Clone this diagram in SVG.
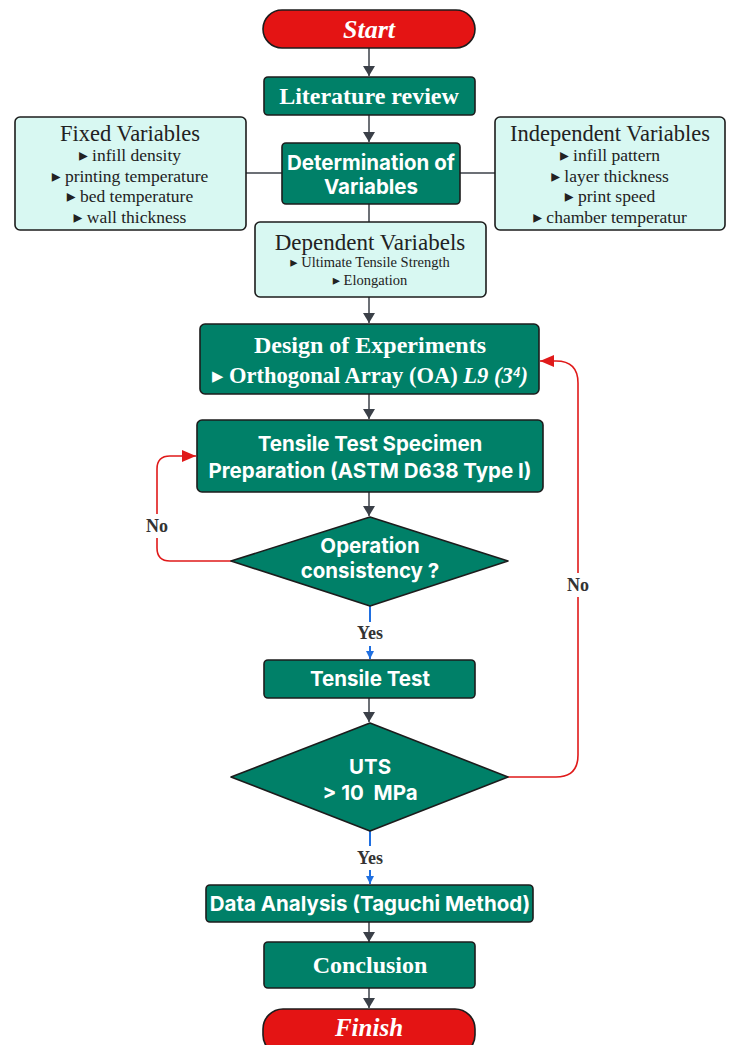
<svg xmlns="http://www.w3.org/2000/svg" width="731" height="1045" viewBox="0 0 731 1045">
<defs>
<style>
.g{fill:#008068;stroke:#1c1c1c;stroke-width:1.6}
.l{fill:#d8f8f2;stroke:#1c1c1c;stroke-width:1.6}
.r{fill:#e41414;stroke:#1c1c1c;stroke-width:1.6}
.sf{font-family:"Liberation Serif","DejaVu Serif",serif;text-anchor:middle}
.ss{font-family:Inter,"Liberation Sans",sans-serif;font-weight:700;text-anchor:middle;fill:#fff}
.wb{fill:#fff;font-weight:700}
.dk{fill:#222}
.c{fill:none;stroke:#3b4048;stroke-width:1.5}
.cr{fill:none;stroke:#e01a1a;stroke-width:1.6}
.cb{fill:none;stroke:#1f6fe0;stroke-width:2}
.lbl{font-family:"Liberation Serif","DejaVu Serif",serif;font-weight:700;font-size:18px;fill:#333;text-anchor:middle}
</style>
<marker id="ag" markerWidth="10" markerHeight="14" refX="10" refY="7" orient="auto" markerUnits="userSpaceOnUse"><path d="M0,1 L10,7 L0,13 Z" fill="#3b4048"/></marker>
<marker id="ar" markerWidth="14" markerHeight="12" refX="14" refY="6" orient="auto" markerUnits="userSpaceOnUse"><path d="M0,0 L14,6 L0,12 Z" fill="#e01a1a"/></marker>
<marker id="ab" markerWidth="8" markerHeight="10" refX="8" refY="5" orient="auto" markerUnits="userSpaceOnUse"><path d="M0,1 L8,5 L0,9 Z" fill="#1f6fe0"/></marker>
</defs>
<rect width="731" height="1045" fill="#fff"/>

<g id="connectors">
<line class="c" x1="369" y1="48" x2="369" y2="76" marker-end="url(#ag)"/>
<line class="c" x1="369" y1="115" x2="369" y2="142" marker-end="url(#ag)"/>
<line class="c" x1="246" y1="173" x2="282" y2="173"/>
<line class="c" x1="460" y1="173" x2="495" y2="173"/>
<line class="c" x1="369" y1="204" x2="369" y2="222"/>
<line class="c" x1="369" y1="297" x2="369" y2="323" marker-end="url(#ag)"/>
<line class="c" x1="369" y1="394" x2="369" y2="419" marker-end="url(#ag)"/>
<line class="c" x1="369" y1="492" x2="369" y2="516" marker-end="url(#ag)"/>
<line class="cb" x1="370" y1="606" x2="370" y2="622"/>
<line class="cb" x1="370" y1="646" x2="370" y2="659" marker-end="url(#ab)"/>
<line class="c" x1="369" y1="698" x2="369" y2="722" marker-end="url(#ag)"/>
<line class="cb" x1="370" y1="831" x2="370" y2="846"/>
<line class="cb" x1="370" y1="870" x2="370" y2="884" marker-end="url(#ab)"/>
<line class="c" x1="369" y1="922" x2="369" y2="942" marker-end="url(#ag)"/>
<line class="c" x1="369" y1="988" x2="369" y2="1008" marker-end="url(#ag)"/>
<path class="cr" d="M231,561 H170 Q157,561 157,548 V469 Q157,456 170,456 H196" marker-end="url(#ar)"/>
<path class="cr" d="M508,777 H556 Q578,777 578,755 V383 Q578,361 556,361 H540" marker-end="url(#ar)"/>
<rect x="142" y="514" width="30" height="24" fill="#fff"/>
<text class="lbl" x="157" y="532">No</text>
<rect x="563" y="573" width="30" height="24" fill="#fff"/>
<text class="lbl" x="578" y="591">No</text>
<text class="lbl" x="370" y="639">Yes</text>
<text class="lbl" x="370" y="864">Yes</text>
</g>

<g id="start">
<rect class="r" x="263" y="10" width="212" height="38" rx="19"/>
<text class="sf wb" x="369" y="38" font-size="26" font-style="italic">Start</text>
</g>
<g id="literature">
<rect class="g" x="264" y="77" width="211" height="38" rx="4"/>
<text class="sf wb" x="369" y="104" font-size="24">Literature review</text>
</g>
<g id="fixed">
<rect class="l" x="15" y="117" width="231" height="113" rx="5"/>
<text class="sf dk" x="130" y="141" font-size="22.5">Fixed Variables</text>
<text class="sf dk" x="130" y="161" font-size="17.5">▸ infill density</text>
<text class="sf dk" x="130" y="182" font-size="17.5">▸ printing temperature</text>
<text class="sf dk" x="130" y="202" font-size="17.5">▸  bed temperature</text>
<text class="sf dk" x="130" y="223" font-size="17.5">▸ wall thickness</text>
</g>
<g id="determination">
<rect class="g" x="282" y="143" width="178" height="61" rx="4"/>
<text class="ss" x="371" y="170" font-size="20.5">Determination of</text>
<text class="ss" x="371" y="194" font-size="20.5">Variables</text>
</g>
<g id="independent">
<rect class="l" x="495" y="117" width="230" height="113" rx="5"/>
<text class="sf dk" x="610" y="141" font-size="22.5">Independent Variables</text>
<text class="sf dk" x="610" y="161" font-size="17.5">▸ infill pattern</text>
<text class="sf dk" x="610" y="182" font-size="17.5">▸ layer thickness</text>
<text class="sf dk" x="610" y="202" font-size="17.5">▸ print speed</text>
<text class="sf dk" x="610" y="223" font-size="17.5">▸ chamber temperatur</text>
</g>
<g id="dependent">
<rect class="l" x="255" y="222" width="231" height="75" rx="5"/>
<text class="sf dk" x="370" y="250" font-size="23">Dependent Variabels</text>
<text class="sf dk" x="370" y="267" font-size="14.5">▸ Ultimate Tensile Strength</text>
<text class="sf dk" x="370" y="285" font-size="14.5">▸ Elongation</text>
</g>
<g id="doe">
<rect class="g" x="200" y="324" width="339" height="70" rx="5"/>
<text class="sf wb" x="370" y="353" font-size="24">Design of Experiments</text>
<text class="sf wb" x="370" y="383" font-size="22.5">▸ Orthogonal Array (OA) <tspan font-style="italic">L9 (3⁴)</tspan></text>
</g>
<g id="specimen">
<rect class="g" x="197" y="420" width="346" height="72" rx="5"/>
<text class="ss" x="370" y="451" font-size="20.5">Tensile Test Specimen</text>
<text class="ss" x="370" y="478" font-size="20.5">Preparation (ASTM D638 Type I)</text>
</g>
<g id="consistency">
<polygon class="g" points="370,517 508,561 370,606 231,561" stroke-linejoin="round"/>
<text class="ss" x="370" y="553" font-size="20.5">Operation</text>
<text class="ss" x="370" y="578" font-size="20.5">consistency ?</text>
</g>
<g id="tensile">
<rect class="g" x="264" y="660" width="211" height="38" rx="4"/>
<text class="ss" x="370" y="686" font-size="20.5">Tensile Test</text>
</g>
<g id="uts">
<polygon class="g" points="370,723 508,777 370,831 231,777" stroke-linejoin="round"/>
<text class="ss" x="370" y="774" font-size="20.5">UTS</text>
<text class="ss" x="370" y="800" font-size="20.5" xml:space="preserve">&gt; 10  MPa</text>
</g>
<g id="analysis">
<rect class="g" x="206" y="885" width="327" height="37" rx="4"/>
<text class="ss" x="370" y="911" font-size="20.5">Data Analysis (Taguchi Method)</text>
</g>
<g id="conclusion">
<rect class="g" x="264" y="942" width="211" height="46" rx="4"/>
<text class="sf wb" x="370" y="973" font-size="24">Conclusion</text>
</g>
<g id="finish">
<rect class="r" x="263" y="1009" width="212" height="46" rx="20"/>
<text class="sf wb" x="369" y="1036" font-size="25" font-style="italic">Finish</text>
</g>
</svg>
